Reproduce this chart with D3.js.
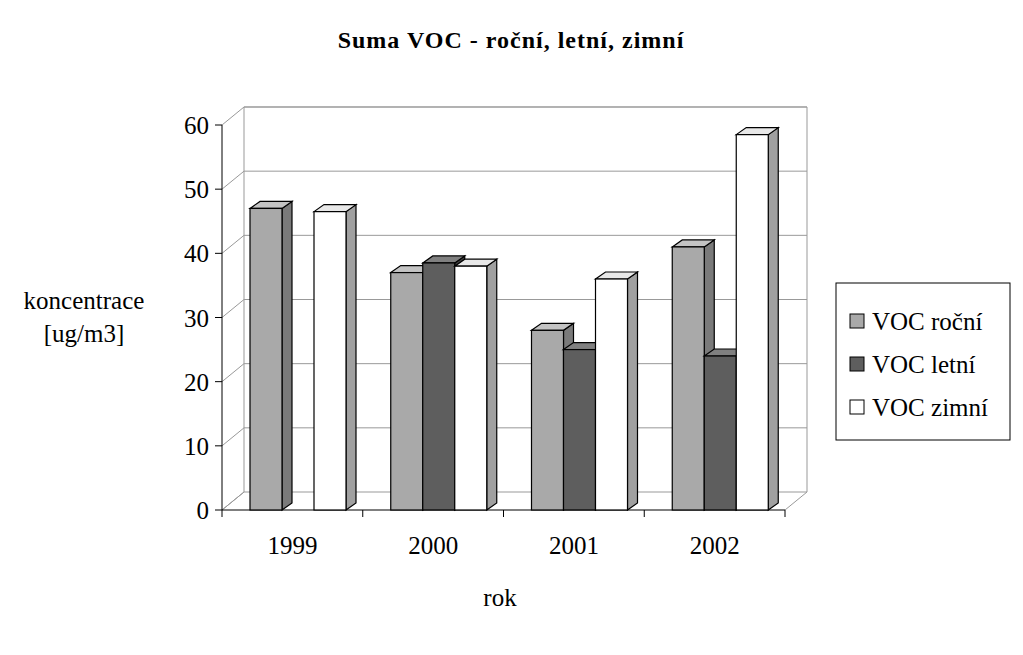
<!DOCTYPE html>
<html><head><meta charset="utf-8">
<script src="https://cdn.jsdelivr.net/npm/d3@7"></script>
<style>body{margin:0;background:#fff}text{font-family:"Liberation Serif","Times New Roman",serif}</style>
</head><body>
<script>
// data
var years = ["1999", "2000", "2001", "2002"];
var series = ["VOC roční", "VOC letní", "VOC zimní"];
var rocni = [47, 37, 28, 41];
var letni = [0, 38.5, 25, 24];
var zimni = [46.5, 38, 36, 58.5];
var yTicks = [0, 10, 20, 30, 40, 50, 60];
var fills = ["#a9a9a9", "#5e5e5e", "#ffffff"];
var sides = ["#7a7a7a", "#3c3c3c", "#a0a0a0"];
var tops = ["#c4c4c4", "#808080", "#e8e8e8"];

var W = 1023, H = 655, dx = 22, dy = -18, fs = 25;
var svg = d3.select("body").append("svg").attr("width", W).attr("height", H);

var x = d3.scaleBand().domain(years).range([222, 785]);
var y = d3.scaleLinear().domain([0, 60]).range([510, 125]);
var xs = d3.scaleBand().domain(d3.range(3)).range([0, 96]);

svg.append("text").attr("x", 511).attr("y", 48).attr("text-anchor", "middle")
  .attr("font-size", 24).attr("font-weight", "bold").attr("letter-spacing", 1).text("Suma VOC - roční, letní, zimní");

// back wall + floor
var g = svg.append("g");
g.append("path").attr("fill", "none").attr("stroke", "#999")
  .attr("d", "M222,510L" + (222 + dx) + "," + (510 + dy) + "L" + (222 + dx) + "," + (y(60) + dy) + "L" + (785 + dx) + "," + (y(60) + dy) + "L" + (785 + dx) + "," + (510 + dy) + "L785,510");
yTicks.forEach(function (t) {
  g.append("line").attr("x1", 222 + dx).attr("x2", 785 + dx).attr("y1", y(t) + dy).attr("y2", y(t) + dy).attr("stroke", "#999");
  g.append("line").attr("x1", 222).attr("x2", 222 + dx).attr("y1", y(t)).attr("y2", y(t) + dy).attr("stroke", "#999");
  g.append("line").attr("x1", 215).attr("x2", 222).attr("y1", y(t)).attr("y2", y(t)).attr("stroke", "#000");
  g.append("text").attr("x", 209).attr("y", y(t) + 9).attr("text-anchor", "end").attr("font-size", fs).text(t);
});
g.append("line").attr("x1", 222).attr("x2", 222).attr("y1", y(0)).attr("y2", y(60)).attr("stroke", "#000");
g.append("line").attr("x1", 222).attr("x2", 785).attr("y1", 510).attr("y2", 510).attr("stroke", "#000");
years.forEach(function (yr, i) {
  var xx = x(yr);
  g.append("line").attr("x1", xx).attr("x2", xx).attr("y1", 510).attr("y2", 517).attr("stroke", "#000");
  g.append("text").attr("x", xx + x.bandwidth() / 2).attr("y", 554).attr("text-anchor", "middle").attr("font-size", fs).text(yr);
});
g.append("line").attr("x1", 785).attr("x2", 785).attr("y1", 510).attr("y2", 517).attr("stroke", "#000");

// bars
var data = [rocni, letni, zimni];
var bd = 10, bt = -7;
years.forEach(function (yr, i) {
  data.forEach(function (s, k) {
    var v = s[i]; if (!v) return;
    var x0 = x(yr) + 28 + xs(k), w = xs.bandwidth(), y0 = y(v), yb = y(0);
    var bg = svg.append("g").attr("stroke", "#000").attr("stroke-width", 1.2);
    bg.append("path").attr("fill", sides[k]).attr("d", "M" + (x0 + w) + "," + yb + "L" + (x0 + w + bd) + "," + (yb + bt) + "L" + (x0 + w + bd) + "," + (y0 + bt) + "L" + (x0 + w) + "," + y0 + "Z");
    bg.append("path").attr("fill", tops[k]).attr("d", "M" + x0 + "," + y0 + "L" + (x0 + bd) + "," + (y0 + bt) + "L" + (x0 + w + bd) + "," + (y0 + bt) + "L" + (x0 + w) + "," + y0 + "Z");
    bg.append("rect").attr("fill", fills[k]).attr("x", x0).attr("y", y0).attr("width", w).attr("height", yb - y0);
  });
});

// axis titles
svg.append("text").attr("x", 84).attr("y", 309).attr("text-anchor", "middle").attr("font-size", fs).text("koncentrace");
svg.append("text").attr("x", 84).attr("y", 342).attr("text-anchor", "middle").attr("font-size", fs).text("[ug/m3]");
svg.append("text").attr("x", 500).attr("y", 606).attr("text-anchor", "middle").attr("font-size", fs).text("rok");

// legend
var lg = svg.append("g");
lg.append("rect").attr("x", 836).attr("y", 283).attr("width", 174).attr("height", 157).attr("fill", "#fff").attr("stroke", "#000");
series.forEach(function (s, k) {
  var yy = 322 + k * 43;
  lg.append("rect").attr("x", 850).attr("y", yy - 8).attr("width", 14).attr("height", 14).attr("fill", fills[k]).attr("stroke", "#000");
  lg.append("text").attr("x", 872).attr("y", yy + 8).attr("font-size", fs).text(s);
});
</script>
</body></html>
